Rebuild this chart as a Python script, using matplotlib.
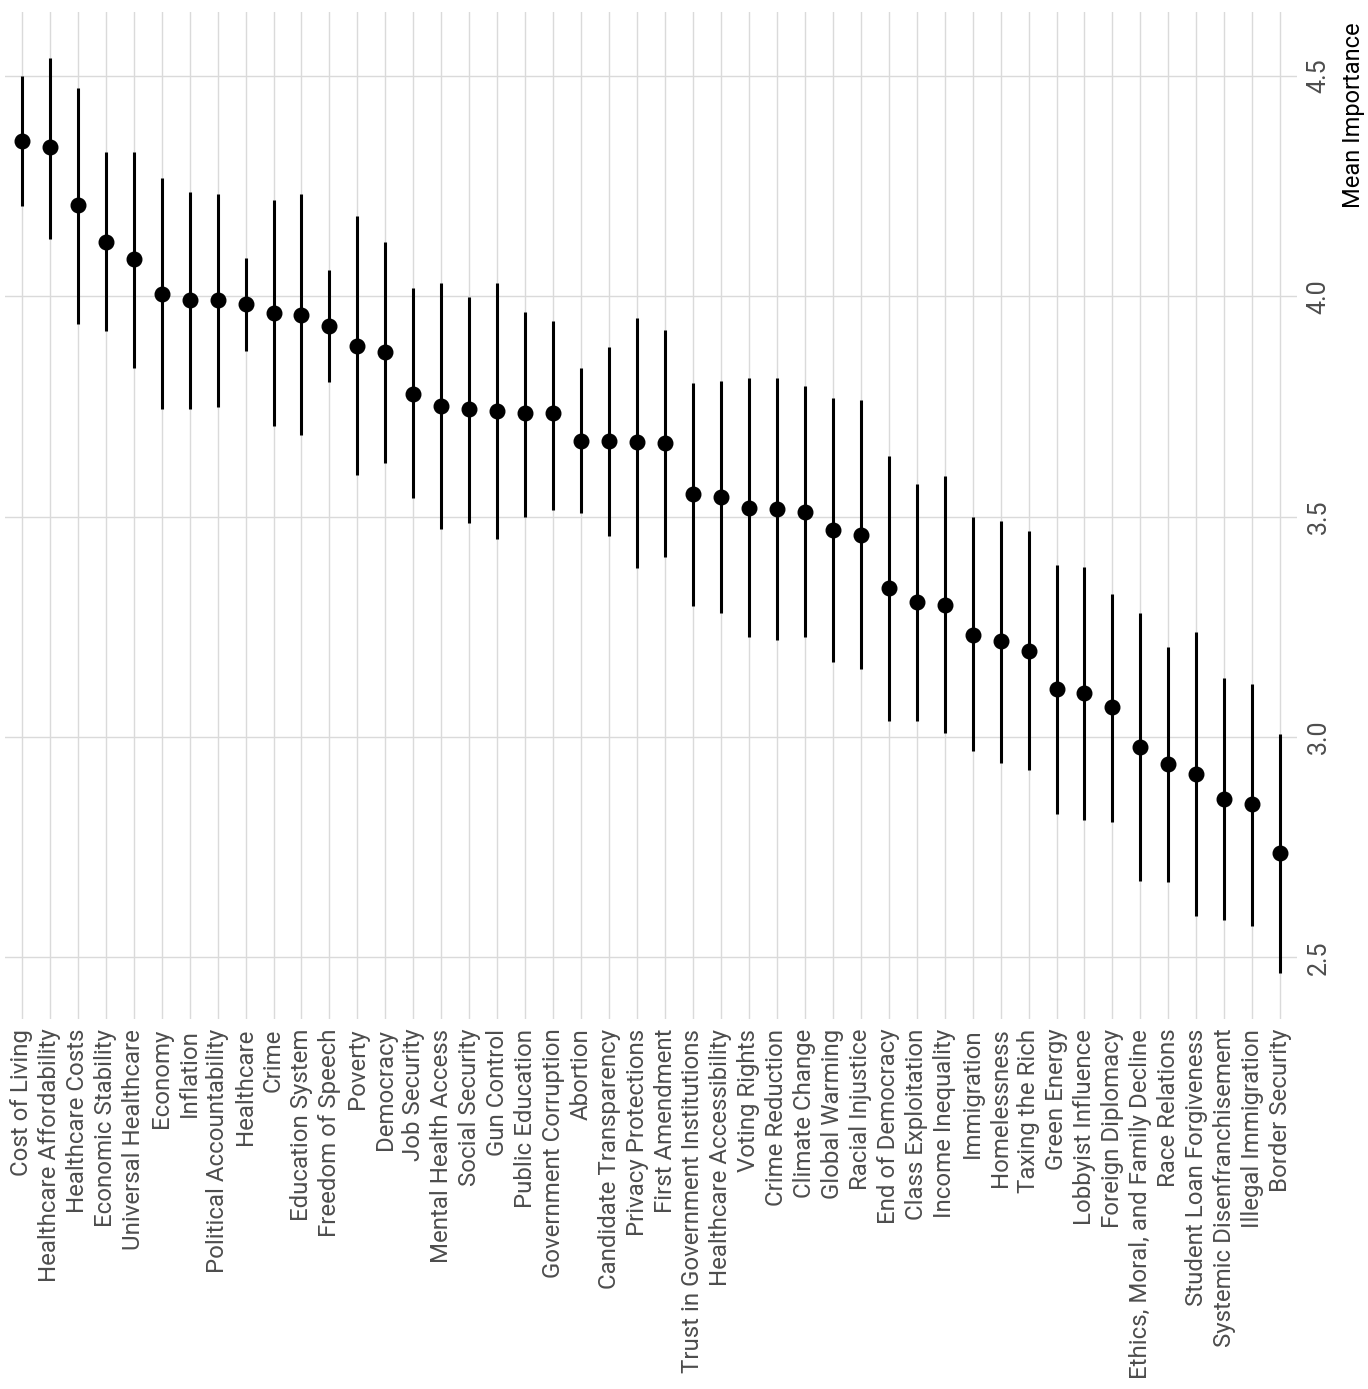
import matplotlib
matplotlib.use('Agg')
import matplotlib.pyplot as plt

plt.rcParams['font.family'] = ['Roboto', 'DejaVu Sans']

issues = ['Cost of Living', 'Healthcare Affordability', 'Healthcare Costs', 'Economic Stability',
          'Universal Healthcare', 'Economy', 'Inflation', 'Political Accountability', 'Healthcare',
          'Crime', 'Education System', 'Freedom of Speech', 'Poverty', 'Democracy', 'Job Security',
          'Mental Health Access', 'Social Security', 'Gun Control', 'Public Education',
          'Government Corruption', 'Abortion', 'Candidate Transparency', 'Privacy Protections',
          'First Amendment', 'Trust in Government Institutions', 'Healthcare Accessibility',
          'Voting Rights', 'Crime Reduction', 'Climate Change', 'Global Warming', 'Racial Injustice',
          'End of Democracy', 'Class Exploitation', 'Income Inequality', 'Immigration',
          'Homelessness', 'Taxing the Rich', 'Green Energy', 'Lobbyist Influence',
          'Foreign Diplomacy', 'Ethics, Moral, and Family Decline', 'Race Relations',
          'Student Loan Forgiveness', 'Systemic Disenfranchisement', 'Illegal Immigration',
          'Border Security']

mean = [4.353, 4.339, 4.207, 4.124, 4.085, 4.005, 3.992, 3.992, 3.983, 3.963,
        3.958, 3.933, 3.888, 3.874, 3.779, 3.752, 3.745, 3.740, 3.736, 3.734,
        3.672, 3.672, 3.670, 3.666, 3.552, 3.545, 3.520, 3.518, 3.511, 3.470,
        3.459, 3.337, 3.305, 3.300, 3.232, 3.217, 3.196, 3.108, 3.099, 3.067,
        2.978, 2.938, 2.915, 2.858, 2.847, 2.736]

upper = [4.500, 4.541, 4.473, 4.328, 4.328, 4.269, 4.237, 4.232, 4.087, 4.218,
         4.232, 4.060, 4.183, 4.124, 4.018, 4.031, 3.999, 4.031, 3.965, 3.944,
         3.836, 3.885, 3.951, 3.924, 3.804, 3.808, 3.815, 3.815, 3.797, 3.768,
         3.765, 3.638, 3.573, 3.593, 3.498, 3.489, 3.468, 3.391, 3.385, 3.325,
         3.282, 3.203, 3.237, 3.133, 3.121, 3.007]

lower = [4.205, 4.130, 3.938, 3.920, 3.838, 3.743, 3.745, 3.749, 3.876, 3.706,
         3.684, 3.806, 3.595, 3.622, 3.541, 3.471, 3.486, 3.450, 3.500, 3.516,
         3.507, 3.457, 3.384, 3.409, 3.296, 3.282, 3.226, 3.219, 3.226, 3.171,
         3.153, 3.037, 3.037, 3.010, 2.967, 2.940, 2.924, 2.824, 2.811, 2.806,
         2.672, 2.670, 2.593, 2.584, 2.570, 2.464]

ticks = [2.5, 3.0, 3.5, 4.0, 4.5]

fig = plt.figure(figsize=(13.68, 13.89), dpi=100)
ax = fig.add_axes([0.0037, 0.2664, 0.9444, 0.725])

x = list(range(len(issues)))
ax.vlines(x, lower, upper, color='black', linewidth=2.2, zorder=3)
ax.plot(x, mean, 'o', color='black', markersize=10.5, zorder=4)

ax.set_xlim(-0.6, len(issues) - 0.4)
ax.set_ylim(2.360, 4.645)

ax.set_xticks(x)
ax.set_xticklabels(issues, rotation=90, ha='center', va='top', fontsize=17.3, color='#4d4d4d')
ax.yaxis.tick_right()
ax.yaxis.set_label_position('right')
ax.set_yticks(ticks)
ax.set_yticklabels(['%.1f' % t for t in ticks], rotation=90, va='center', fontsize=18, color='#4d4d4d')
ax.set_ylabel('Mean Importance', rotation=90, fontsize=17, color='black', loc='top')
# axis title sits at the top end of the value axis
ax.yaxis.set_label_coords(1.035, 0.99)

ax.tick_params(length=0, pad=7)
ax.grid(True, color='#dadada', linewidth=1.0)
ax.set_axisbelow(True)
for s in ax.spines.values():
    s.set_visible(False)

fig.savefig('out.png', dpi=100)
